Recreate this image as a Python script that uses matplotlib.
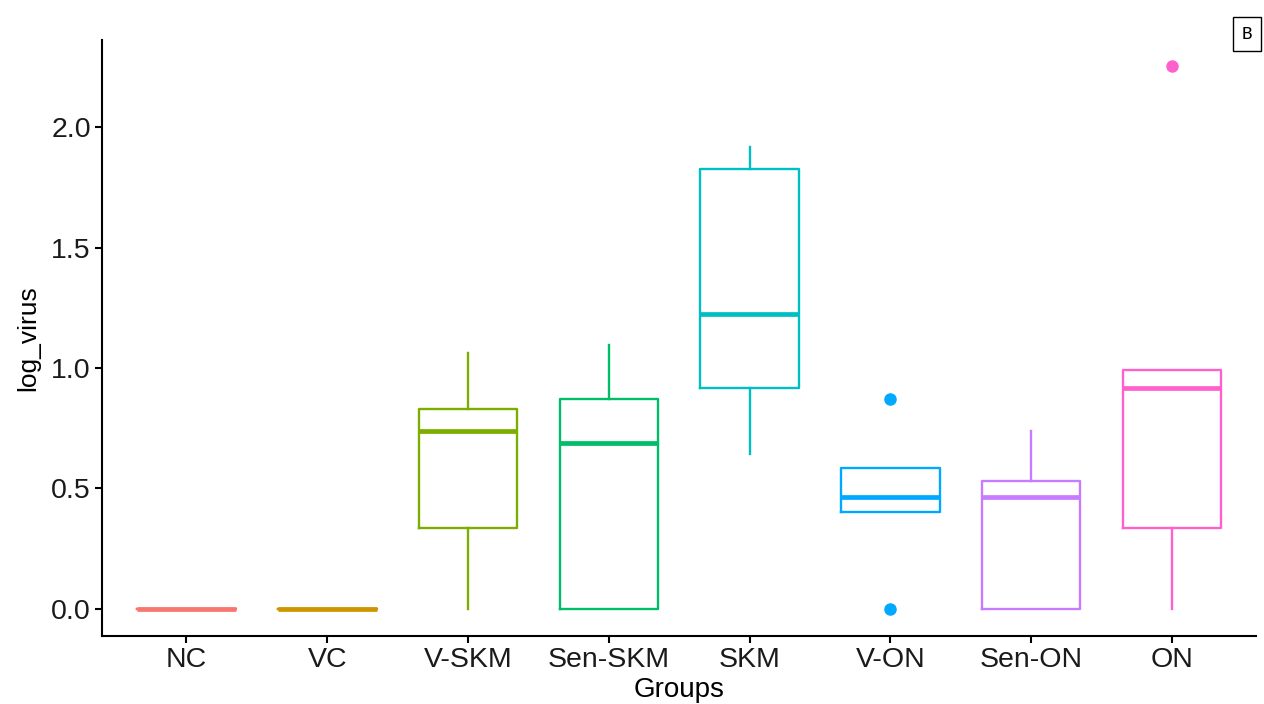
import matplotlib
matplotlib.use("Agg")
from matplotlib import pyplot as plt
import numpy as np

plt.rcParams['font.family'] = ['Liberation Sans', 'DejaVu Sans']

# groups and their box statistics (log virus titre)
groups = ['NC', 'VC', 'V-SKM', 'Sen-SKM', 'SKM', 'V-ON', 'Sen-ON', 'ON']
q1 = [0.0, 0.0, 0.336, 0.0, 0.917, 0.402, 0.0, 0.336]
med = [0.0, 0.0, 0.739, 0.689, 1.224, 0.465, 0.465, 0.917]
q3 = [0.0, 0.0, 0.830, 0.871, 1.826, 0.585, 0.531, 0.992]
whis_lo = [0.0, 0.0, 0.0, 0.0, 0.643, 0.402, 0.0, 0.0]
whis_hi = [0.0, 0.0, 1.062, 1.095, 1.917, 0.585, 0.739, 0.992]
outliers = [[], [], [], [], [], [0.0, 0.872], [], [2.253]]

colors = ['#F8766D', '#CD9600', '#7CAE00', '#00BE67',
          '#00BFC4', '#00A9FF', '#C77CFF', '#FF61CC']

stats = []
for i, g in enumerate(groups):
    stats.append({'label': g, 'q1': q1[i], 'med': med[i], 'q3': q3[i],
                  'whislo': whis_lo[i], 'whishi': whis_hi[i],
                  'fliers': outliers[i]})

fig = plt.figure(figsize=(12.64, 7.04), dpi=100)
ax = fig.add_axes([0.0807, 0.0966, 0.9133, 0.8466])

pos = np.arange(len(groups))
bp = ax.bxp(stats, positions=pos, widths=0.7, showcaps=False,
            patch_artist=False, manage_ticks=False)

for i, c in enumerate(colors):
    bp['boxes'][i].set_color(c)
    bp['boxes'][i].set_linewidth(1.7)
    bp['medians'][i].set_color(c)
    bp['medians'][i].set_linewidth(3.4)
    bp['medians'][i].set_solid_capstyle('butt')
    for w in bp['whiskers'][2 * i:2 * i + 2]:
        w.set_color(c)
        w.set_linewidth(1.7)
    fl = bp['fliers'][i]
    fl.set_marker('o')
    fl.set_markerfacecolor(c)
    fl.set_markeredgecolor(c)
    fl.set_markersize(8)

ax.set_xlim(-0.6, 7.6)
ax.set_ylim(-0.1125, 2.3625)
ax.set_xticks(pos)
ax.set_xticklabels(groups)
ax.set_yticks([0.0, 0.5, 1.0, 1.5, 2.0])
ax.set_yticklabels(['0.0', '0.5', '1.0', '1.5', '2.0'])

for s in ['top', 'right']:
    ax.spines[s].set_visible(False)
for s in ['left', 'bottom']:
    ax.spines[s].set_linewidth(1.5)
    ax.spines[s].set_color('black')

ax.tick_params(axis='both', length=5, width=1.5, color='black',
               labelsize=20.5, labelcolor='#1a1a1a', pad=3)

ax.set_xlabel('Groups', fontsize=20, labelpad=3)
ax.set_ylabel('log_virus', fontsize=19, labelpad=8)

fig.text(1247 / 1264, 1 - 34 / 704, 'B', fontsize=14, ha='center', va='center',
         family=['Carlito', 'Liberation Sans', 'DejaVu Sans'],
         bbox=dict(boxstyle='square,pad=0.45', fc='white', ec='black', lw=1))

fig.savefig('out.png', dpi=100)
